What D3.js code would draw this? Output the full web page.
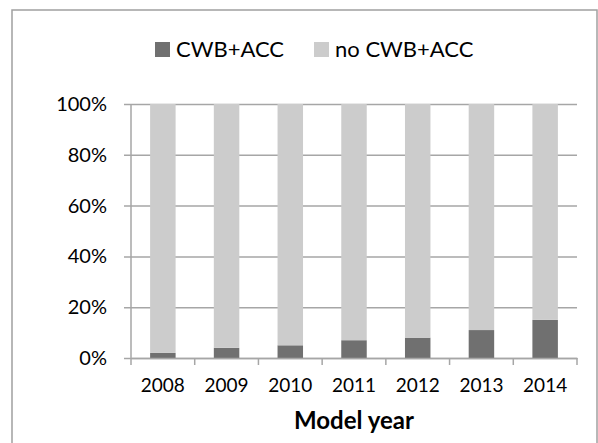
<!DOCTYPE html>
<html>
<head>
<meta charset="utf-8">
<script src="https://cdn.jsdelivr.net/npm/d3@7"></script>
<style>
  html, body { margin: 0; padding: 0; background: #fff; }
  svg { display: block; font-family: Lato, "Open Sans", sans-serif; }
</style>
</head>
<body>
<svg id="chart" width="598" height="443"></svg>
<script>
// Share of vehicles by model year with/without CWB+ACC (percent)
const years = ["2008", "2009", "2010", "2011", "2012", "2013", "2014"];
const withCWB = [2, 4, 5, 7, 8, 11, 15];
const withoutCWB = withCWB.map(v => 100 - v);
const seriesNames = ["CWB+ACC", "no CWB+ACC"];
const seriesColors = ["#707070", "#cccccc"];
const yTicks = [0, 20, 40, 60, 80, 100];
const xTitle = "Model year";

const svg = d3.select("#chart");
const W = 598, H = 443;
const margin = { left: 131, right: 21, top: 104, bottom: 85 };

// outer chart frame
svg.append("rect")
  .attr("x", 12).attr("y", 10)
  .attr("width", 585).attr("height", 440)
  .attr("fill", "none").attr("stroke", "#a0a0a0").attr("stroke-width", 1.5);

const x = d3.scaleBand()
  .domain(years)
  .range([margin.left, W - margin.right])
  .paddingInner(0.6).paddingOuter(0.3);

const y = d3.scaleLinear()
  .domain([0, 100])
  .range([H - margin.bottom, margin.top]);

// horizontal gridlines with left tick stubs
const yAxis = d3.axisLeft(y)
  .tickValues(yTicks)
  .tickFormat(d => d + "%")
  .tickSize(-(W - margin.right - margin.left))
  .tickSizeOuter(0)
  .tickPadding(24);

const gy = svg.append("g")
  .attr("transform", `translate(${margin.left},0)`)
  .call(yAxis);
gy.select(".domain").remove();
gy.selectAll(".tick line")
  .attr("x1", -7)
  .attr("stroke", "#a6a6a6").attr("stroke-width", 1.5);
gy.selectAll(".tick text")
  .attr("fill", "#000").attr("font-size", 20)
  .attr("font-family", "Lato, sans-serif");

// stacked bars
const stackData = years.map((yr, i) => ({ year: yr, a: withCWB[i], b: withoutCWB[i] }));
const stack = d3.stack().keys(["a", "b"])(stackData);

svg.append("g").selectAll("g")
  .data(stack)
  .join("g")
  .attr("fill", (d, i) => seriesColors[i])
  .selectAll("rect")
  .data(d => d)
  .join("rect")
  .attr("x", d => x(d.data.year))
  .attr("width", x.bandwidth())
  .attr("y", d => y(d[1]))
  .attr("height", d => y(d[0]) - y(d[1]));

// vertical axis line
svg.append("line")
  .attr("x1", margin.left).attr("x2", margin.left)
  .attr("y1", y(100)).attr("y2", y(0))
  .attr("stroke", "#a6a6a6").attr("stroke-width", 1.5);

// category axis with boundary ticks
const xAxis = d3.axisBottom(x).tickSize(0).tickPadding(21);
const gx = svg.append("g")
  .attr("transform", `translate(0,${y(0)})`)
  .call(xAxis);
gx.select(".domain").attr("stroke", "#a6a6a6").attr("stroke-width", 1.5);
gx.selectAll(".tick text")
  .attr("fill", "#000").attr("font-size", 19)
  .attr("font-family", "Lato, sans-serif");

const bounds = d3.range(years.length + 1).map(i => margin.left + i * (W - margin.right - margin.left) / years.length);
gx.selectAll("line.bound")
  .data(bounds)
  .join("line")
  .attr("class", "bound")
  .attr("x1", d => d).attr("x2", d => d)
  .attr("y1", 0).attr("y2", 7)
  .attr("stroke", "#a6a6a6").attr("stroke-width", 1.5);

// axis title
svg.append("text")
  .attr("x", (margin.left + W - margin.right) / 2)
  .attr("y", 429)
  .attr("text-anchor", "middle")
  .attr("font-size", 24).attr("font-weight", "bold")
  .attr("font-family", "Lato, sans-serif")
  .text(xTitle);

// legend
const legendX = [155, 314];
const lg = svg.append("g").selectAll("g")
  .data(seriesNames)
  .join("g")
  .attr("transform", (d, i) => `translate(${legendX[i]},42)`);
lg.append("rect")
  .attr("width", 15).attr("height", 15)
  .attr("fill", (d, i) => seriesColors[i]);
lg.append("text")
  .attr("x", 21).attr("y", 15)
  .attr("font-size", 22)
  .attr("font-family", "Lato, sans-serif")
  .text(d => d);
</script>
</body>
</html>
